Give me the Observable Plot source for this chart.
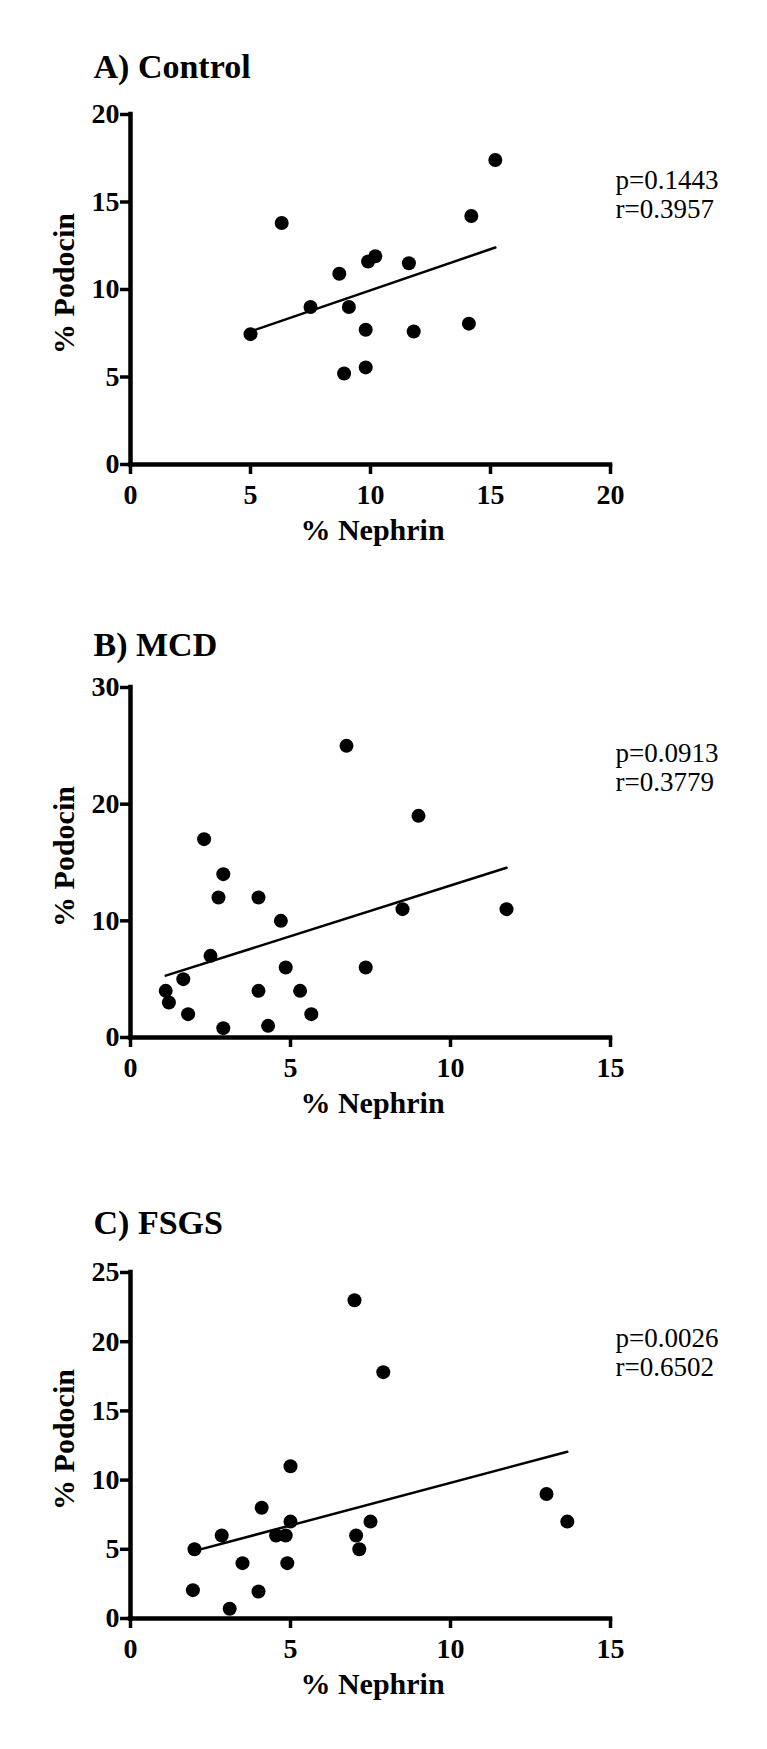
<!DOCTYPE html>
<html>
<head>
<meta charset="utf-8">
<script src="https://cdn.jsdelivr.net/npm/d3@7"></script>
<script src="https://cdn.jsdelivr.net/npm/@observablehq/plot@0.6"></script>
<style>
  html, body { margin: 0; padding: 0; background: #fff; }
  #root svg { display: block; }
</style>
</head>
<body>
<div id="root"></div>
<script>
// ---------- Data ----------
// A) Control
const controlNephrin = [5.0, 6.3, 7.5, 8.7, 8.9, 9.1, 9.8, 9.8, 9.9, 10.2, 11.6, 11.8, 14.1, 14.2, 15.2];
const controlPodocin = [7.45, 13.8, 9.0, 10.9, 5.2, 9.0, 7.7, 5.55, 11.6, 11.9, 11.5, 7.6, 8.05, 14.2, 17.4];
const controlFitX = [5.0, 15.2];
const controlFitY = [7.6, 12.4];
const controlStats = ["p=0.1443", "r=0.3957"];

// B) MCD
const mcdNephrin = [6.75, 9.0, 2.3, 2.9, 2.75, 4.0, 4.7, 8.5, 11.75, 2.5, 4.85, 7.35, 1.65, 1.1, 4.0, 5.3, 1.2, 1.8, 5.65, 2.9, 4.3];
const mcdPodocin = [25, 19, 17, 14, 12, 12, 10, 11, 11, 7, 6, 6, 5, 4, 4, 4, 3, 2, 2, 0.8, 1];
const mcdFitX = [1.1, 11.75];
const mcdFitY = [5.3, 14.55];
const mcdStats = ["p=0.0913", "r=0.3779"];

// C) FSGS
const fsgsNephrin = [7.0, 7.9, 5.0, 13.0, 13.65, 4.1, 5.0, 7.5, 2.85, 4.55, 4.85, 7.05, 2.0, 7.15, 3.5, 4.9, 1.95, 4.0, 3.1];
const fsgsPodocin = [23, 17.8, 11, 9, 7, 8, 7, 7, 6, 6, 6, 6, 5, 5, 4, 4, 2.05, 1.95, 0.7];
const fsgsFitX = [1.95, 13.65];
const fsgsFitY = [4.85, 12.05];
const fsgsStats = ["p=0.0026", "r=0.6502"];

// Titles & axis labels & ticks
const titles = ["A) Control", "B) MCD", "C) FSGS"];
const xLabel = "% Nephrin";
const yLabel = "% Podocin";
const controlXTicks = [0, 5, 10, 15, 20];
const controlYTicks = [0, 5, 10, 15, 20];
const mcdXTicks = [0, 5, 10, 15];
const mcdYTicks = [0, 10, 20, 30];
const fsgsXTicks = [0, 5, 10, 15];
const fsgsYTicks = [0, 5, 10, 15, 20, 25];

// ---------- Drawing ----------
const FONT = "'Liberation Serif', 'Times New Roman', Times, serif";

function panel(cfg) {
  const pts = cfg.nephrin.map((x, i) => ({x, y: cfg.podocin[i]}));
  const fit = cfg.fitX.map((x, i) => ({x, y: cfg.fitY[i]}));
  const xTicks = cfg.xTicks, yTicks = cfg.yTicks;
  const tickFont = {fontSize: 28, fontWeight: "bold", fontFamily: FONT, fontVariant: "normal"};
  return Plot.plot({
    width: 767,
    height: cfg.height,
    marginLeft: 130,
    marginRight: 157,
    marginTop: cfg.marginTop,
    marginBottom: cfg.marginBottom,
    style: {fontFamily: FONT, fontSize: "28px", fontWeight: "bold", color: "black", background: "white", overflow: "visible"},
    x: {domain: [xTicks[0], xTicks[xTicks.length - 1]]},
    y: {domain: [yTicks[0], yTicks[yTicks.length - 1]]},
    marks: [
      Plot.axisX({ticks: xTicks, tickSize: 10, tickPadding: 10, strokeWidth: 3.5, label: null,
                  tickFormat: d => String(d), ...tickFont}),
      Plot.axisY({ticks: yTicks, tickSize: 10, tickPadding: 1, strokeWidth: 3.5, label: null,
                  tickFormat: d => String(d), ...tickFont}),
      Plot.ruleY([yTicks[0]], {strokeWidth: 4.5, strokeLinecap: "square"}),
      Plot.ruleX([xTicks[0]], {strokeWidth: 4.5, strokeLinecap: "square"}),
      Plot.line(fit, {x: "x", y: "y", stroke: "black", strokeWidth: 2.5}),
      Plot.dot(pts, {x: "x", y: "y", r: 7, fill: "black", stroke: "none"}),
      Plot.text([cfg.title], {text: d => d, frameAnchor: "top-left", dx: -37, dy: cfg.titleDy,
                  textAnchor: "start", lineAnchor: "bottom", fontSize: 34, fontWeight: "bold", fontFamily: FONT}),
      Plot.text([yLabel], {text: d => d, frameAnchor: "left", dx: -57, dy: -6, rotate: -90,
                  textAnchor: "middle", lineAnchor: "bottom", fontSize: 30, fontWeight: "bold", fontFamily: FONT}),
      Plot.text([xLabel], {text: d => d, frameAnchor: "bottom", dx: 2, dy: 75,
                  textAnchor: "middle", lineAnchor: "bottom", fontSize: 30, fontWeight: "bold", fontFamily: FONT}),
      Plot.text([cfg.stats[0]], {text: d => d, frameAnchor: "top-right", dx: 5, dy: 65.5,
                  textAnchor: "start", lineAnchor: "middle", fontSize: 27, fontWeight: "normal", fontFamily: FONT}),
      Plot.text([cfg.stats[1]], {text: d => d, frameAnchor: "top-right", dx: 5, dy: 95,
                  textAnchor: "start", lineAnchor: "middle", fontSize: 27, fontWeight: "normal", fontFamily: FONT})
    ]
  });
}

const root = document.getElementById("root");
root.appendChild(panel({
  nephrin: controlNephrin, podocin: controlPodocin, fitX: controlFitX, fitY: controlFitY,
  stats: controlStats, title: titles[0], xTicks: controlXTicks, yTicks: controlYTicks,
  height: 580, marginTop: 114, marginBottom: 116, titleDy: -37
}));
root.appendChild(panel({
  nephrin: mcdNephrin, podocin: mcdPodocin, fitX: mcdFitX, fitY: mcdFitY,
  stats: mcdStats, title: titles[1], xTicks: mcdXTicks, yTicks: mcdYTicks,
  height: 585, marginTop: 107, marginBottom: 128, titleDy: -32
}));
root.appendChild(panel({
  nephrin: fsgsNephrin, podocin: fsgsPodocin, fitX: fsgsFitX, fitY: fsgsFitY,
  stats: fsgsStats, title: titles[2], xTicks: fsgsXTicks, yTicks: fsgsYTicks,
  height: 584, marginTop: 107, marginBottom: 131, titleDy: -39
}));
</script>
</body>
</html>
